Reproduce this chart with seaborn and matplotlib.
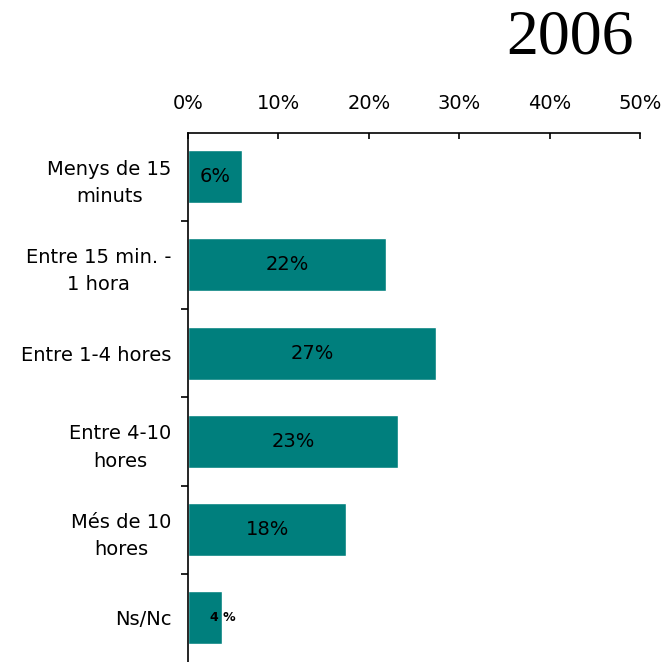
import numpy as np
import pandas as pd
import matplotlib
matplotlib.use('Agg')
import matplotlib.pyplot as plt
import seaborn as sns

categories = ['Menys de 15\nminuts', 'Entre 15 min. -\n1 hora', 'Entre 1-4 hores',
              'Entre 4-10\nhores', 'Més de 10\nhores', 'Ns/Nc']
values = [6.0, 21.9, 27.4, 23.2, 17.5, 3.8]
bar_labels = ['6%', '22%', '27%', '23%', '18%', '4 %']
xticks = [0, 10, 20, 30, 40, 50]

df = pd.DataFrame({'cat': categories, 'pct': values})

sns.set_style('white')
plt.rcParams['font.family'] = ['DejaVu Sans']
plt.rcParams['text.color'] = 'black'
plt.rcParams['xtick.color'] = 'black'
plt.rcParams['ytick.color'] = 'black'
plt.rcParams['xtick.labelcolor'] = 'black'
plt.rcParams['ytick.labelcolor'] = 'black'

fig = plt.figure(figsize=(6.64, 6.62), dpi=100)
ax = fig.add_axes([188 / 664, 0.0, 452 / 664, 1 - 132.5 / 662])

sns.barplot(data=df, x='pct', y='cat', orient='h', color='#007F7D',
            saturation=1, width=0.6, ax=ax)

ax.set_xlim(0, 50)
ax.set_ylim(5.5, -0.5)
ax.xaxis.tick_top()
ax.set_xticks(xticks)
ax.set_xticklabels([f'{t}%' for t in xticks], fontsize=14)
ax.tick_params(axis='x', direction='in', length=4, width=1.2, pad=14,
               top=True, bottom=False)
ax.set_yticks(range(len(categories)))
ax.set_yticklabels(categories, fontsize=14, linespacing=1.55)
for lab in ax.get_yticklabels():
    lab.set_multialignment('center')
ax.tick_params(axis='y', length=0, pad=12, left=True)
ax.set_yticks(np.arange(0.5, len(categories) - 0.5, 1), minor=True)
ax.tick_params(axis='y', which='minor', direction='out', length=5, width=1.2, left=True)
ax.set_xlabel('')
ax.set_ylabel('')

for s in ['right', 'bottom']:
    ax.spines[s].set_visible(False)
for s in ['top', 'left']:
    ax.spines[s].set_linewidth(1.2)
    ax.spines[s].set_color('black')

for i, (v, lab) in enumerate(zip(values, bar_labels)):
    if i == len(values) - 1:
        ax.text(v, i, lab, ha='center', va='center', fontsize=9, fontweight='bold')
    else:
        ax.text(v / 2, i, lab, ha='center', va='center', fontsize=14)

fig.text(634 / 664, 1 - 39 / 662, '2006', ha='right', va='center',
         fontsize=46, family='Liberation Serif', color='black')

fig.savefig('out.png', dpi=100)
